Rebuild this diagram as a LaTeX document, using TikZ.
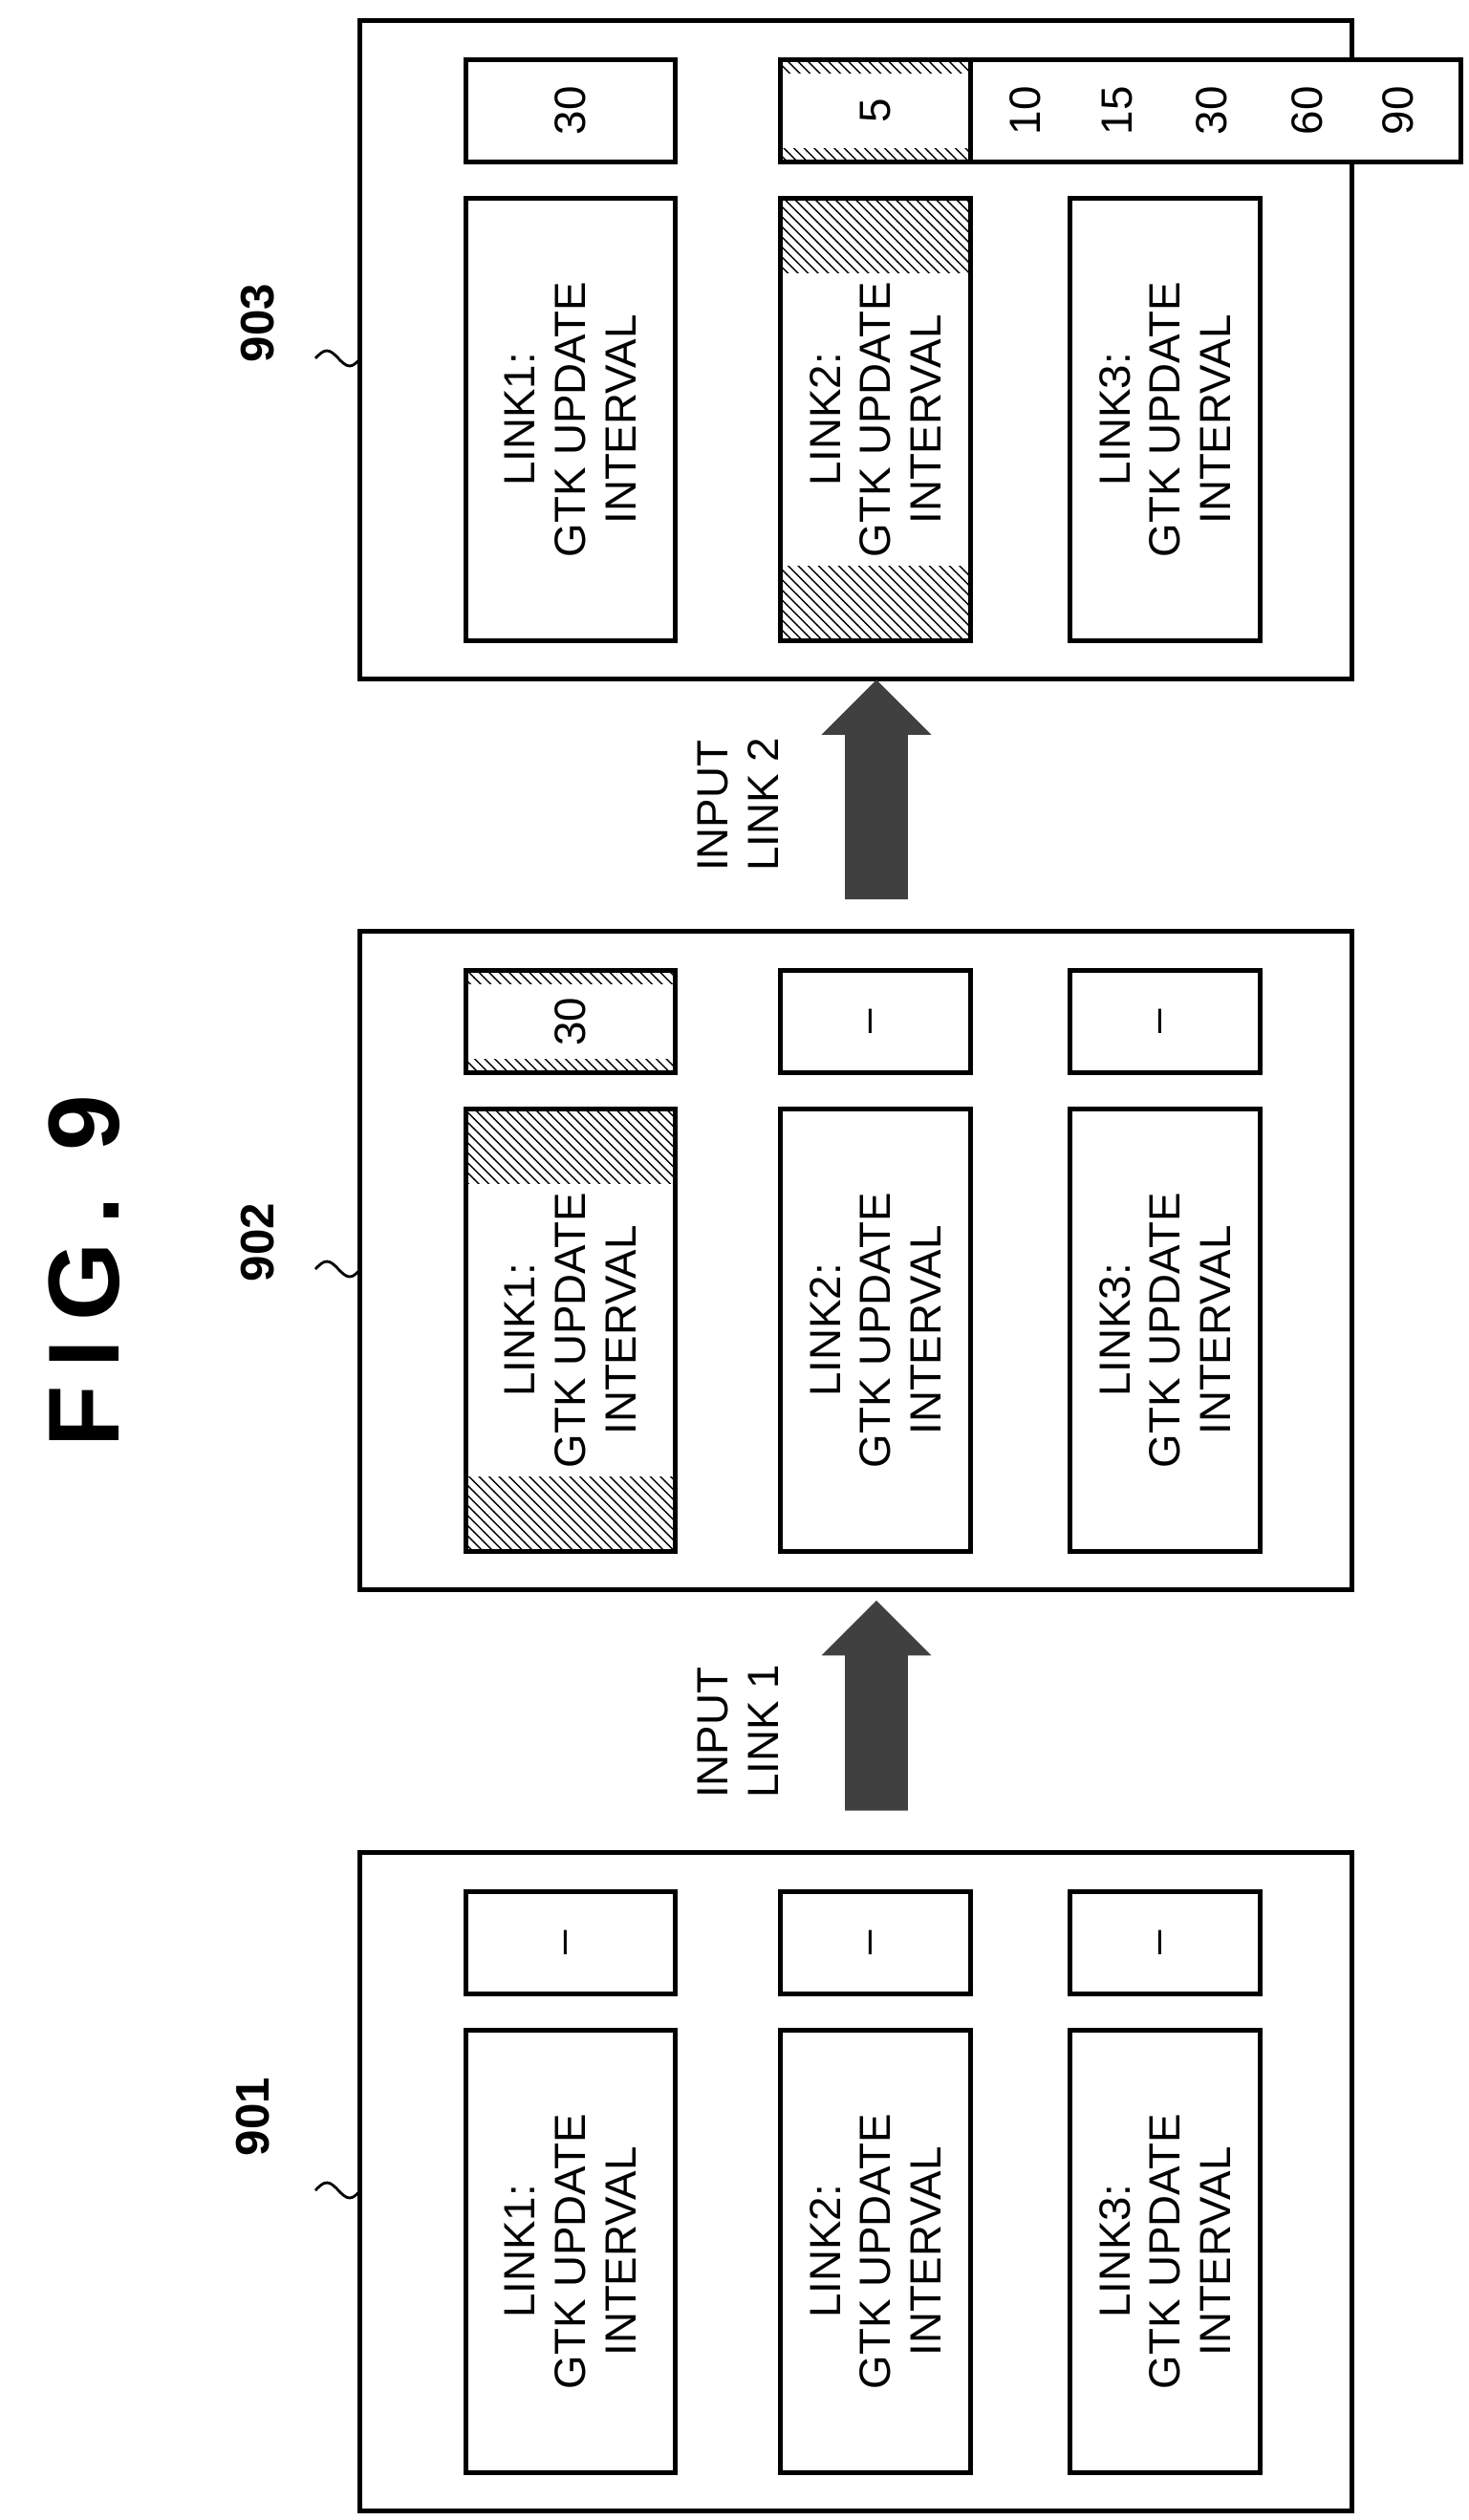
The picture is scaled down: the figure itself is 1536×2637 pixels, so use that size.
\documentclass[tikz,border=0pt]{standalone}
\usepackage{fontspec}
\setmainfont{Liberation Sans}
\usetikzlibrary{positioning,patterns,shapes.arrows,calc}

\begin{document}
\begin{tikzpicture}[
    x=0.01cm, y=-0.01cm,
    every node/.style={font=\fontsize{13}{15}\selectfont},
    panel/.style={draw, line width=1.5pt, minimum width=10.37cm, minimum height=6.89cm},
    field/.style={draw, line width=1.4pt, rotate=90, align=center, inner sep=0pt,
        minimum width=4.62cm, minimum height=#1},
    field/.default=1.99cm,
    value/.style={draw, line width=1.4pt, rotate=90, inner sep=0pt,
        minimum width=1.07cm, minimum height=#1},
    value/.default=1.99cm,
    chosen/.style={pattern=north west lines, pattern color=black,
        path picture={\fill[white] ($(path picture bounding box.south west)+(#1)$)
            rectangle ($(path picture bounding box.north east)-(#1)$);}},
    numlabel/.style={font=\fontsize{14}{16}\selectfont\bfseries, rotate=90},
    bigarrow/.style={single arrow, rotate=90, fill=black!75, draw=black!75,
        inner xsep=0pt, inner ysep=0.315cm,
        single arrow head extend=0.235cm, minimum height=#1},
]
\useasboundingbox (0,0) rectangle (1536,2637);

% title
\node[font=\fontsize{30}{34}\selectfont\bfseries, rotate=90] (title) at (88,1330)
    {\addfontfeatures{LetterSpace=18}FIG. 9};

% === panel 901 ===
\node[panel] (p901) at (895.5,2283) {};
\node[numlabel] (n901) at (265,2215) {901};
\draw[line width=0.8pt] (330,2292) sin (342,2284) cos (354,2292) sin (366,2300) cos (377,2292);
\node[value=2.18cm] (v11) at (597,2033) {--};
\node[value] (v12) at (916,2033) {--};
\node[value] (v13) at (1219,2033) {--};
\node[field=2.18cm] (f11) at (597,2356) {LINK1:\\GTK UPDATE\\INTERVAL};
\node[field] (f12) at (916,2356) {LINK2:\\GTK UPDATE\\INTERVAL};
\node[field] (f13) at (1219,2356) {LINK3:\\GTK UPDATE\\INTERVAL};

% === panel 902 ===
\node[panel] (p902) at (895.5,1319) {};
\node[numlabel] (n902) at (270,1300) {902};
\draw[line width=0.8pt] (330,1328) sin (342,1320) cos (354,1328) sin (366,1336) cos (377,1328);
\node[value=2.18cm, chosen={0.15cm,0.7cm}] (v21) at (597,1069) {30};
\node[value] (v22) at (916,1069) {--};
\node[value] (v23) at (1219,1069) {--};
\node[field=2.18cm, chosen={0.78cm,0.22cm}] (f21) at (597,1392) {LINK1:\\GTK UPDATE\\INTERVAL};
\node[field] (f22) at (916,1392) {LINK2:\\GTK UPDATE\\INTERVAL};
\node[field] (f23) at (1219,1392) {LINK3:\\GTK UPDATE\\INTERVAL};

% === panel 903 ===
\node[panel] (p903) at (895.5,366) {};
\node[numlabel] (n903) at (270,338) {903};
\draw[line width=0.8pt] (330,375) sin (342,367) cos (354,375) sin (366,383) cos (377,375);
\node[value=2.18cm] (v31) at (597,116) {30};
% drop-down list
\node[draw, line width=1.4pt, fill=white, minimum width=5.12cm, minimum height=1.07cm,
    inner sep=0pt] (list) at (1272,116) {};
\foreach \v/\xx in {10/1073,15/1169,30/1268,60/1368,90/1463}
    \node[rotate=90] (d\v) at (\xx,116) {\v};
\node[value, chosen={0.15cm,0.65cm}] (v32) at (916,116) {5};
\node[field=2.18cm] (f31) at (597,439) {LINK1:\\GTK UPDATE\\INTERVAL};
\node[field, chosen={0.78cm,0.22cm}] (f32) at (916,439) {LINK2:\\GTK UPDATE\\INTERVAL};
\node[field] (f33) at (1219,439) {LINK3:\\GTK UPDATE\\INTERVAL};

% arrows between panels
\node[bigarrow=2.18cm] (a1) at ($(p901.north)!0.5!(p902.south)+(21.5,0)$) {};
\node[rotate=90, align=left] (t1) at (772,1812) {INPUT\\LINK 1};
\node[bigarrow=2.28cm] (a2) at ($(p902.north)!0.5!(p903.south)+(21.5,0)$) {};
\node[rotate=90, align=left] (t2) at (772,842) {INPUT\\LINK 2};

\end{tikzpicture}
\end{document}
